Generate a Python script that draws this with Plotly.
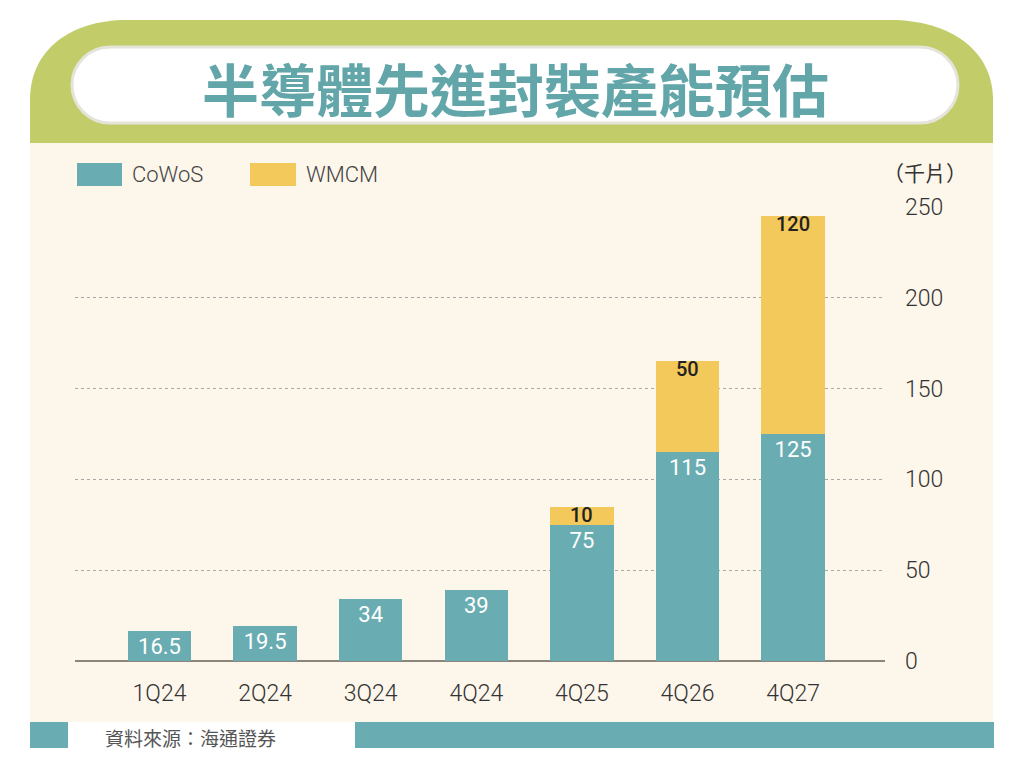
import plotly.graph_objects as go

quarters = ['1Q24', '2Q24', '3Q24', '4Q24', '4Q25', '4Q26', '4Q27']
cowos = [16.5, 19.5, 34, 39, 75, 115, 125]
wmcm = [None, None, None, None, 10, 50, 120]
y_ticks = [0, 50, 100, 150, 200, 250]

title = '半導體先進封裝產能預估'
unit = '（千片）'
source = '資料來源：海通證券'

TEAL = '#69adb2'
YELLOW = '#f3c95b'
GREEN = '#c2cc69'
BEIGE = '#fdf6ea'
TITLE_TEAL = '#62a6aa'

# plot area in pixels
L, R, T, B = 75, 139, 207, 106
W = 1024 - L - R
H = 767 - T - B


def px(X):
    return (X - L) / W


def py(Y):
    return (767 - B - Y) / H


fig = go.Figure()

fig.add_trace(go.Bar(x=quarters, y=cowos, name='CoWoS',
                     marker=dict(color=TEAL, line=dict(width=0)),
                     text=[f'{v:g}' for v in cowos],
                     textposition='inside', insidetextanchor='end',
                     constraintext='none', textangle=0,
                     textfont=dict(color='white', size=22, family='Roboto')))
fig.add_trace(go.Bar(x=quarters, y=wmcm, name='WMCM',
                     marker=dict(color=YELLOW, line=dict(width=0)),
                     textposition='none'))

shapes = []
# green header with rounded top corners
path = (f'M {px(30)},{py(150)} L {px(30)},{py(100)} '
        f'C {px(30)},{py(50)} {px(70)},{py(20)} {px(127)},{py(20)} '
        f'L {px(890)},{py(20)} '
        f'C {px(950)},{py(20)} {px(993)},{py(50)} {px(993)},{py(100)} '
        f'L {px(993)},{py(150)} Z')
shapes.append(dict(type='path', xref='paper', yref='paper', path=path,
                   fillcolor=GREEN, line=dict(width=0), layer='below'))
# beige body
shapes.append(dict(type='rect', xref='paper', yref='paper',
                   x0=px(30), x1=px(993), y0=py(722), y1=py(143),
                   fillcolor=BEIGE, line=dict(width=0), layer='below'))
# white title pill
r = 38
pill = (f'M {px(72 + r)},{py(47)} L {px(958 - r)},{py(47)} '
        f'C {px(958 - r + 21)},{py(47)} {px(958)},{py(64)} {px(958)},{py(85)} '
        f'C {px(958)},{py(106)} {px(958 - r + 21)},{py(123)} {px(958 - r)},{py(123)} '
        f'L {px(72 + r)},{py(123)} '
        f'C {px(72 + r - 21)},{py(123)} {px(72)},{py(106)} {px(72)},{py(85)} '
        f'C {px(72)},{py(64)} {px(72 + r - 21)},{py(47)} {px(72 + r)},{py(47)} Z')
shapes.append(dict(type='path', xref='paper', yref='paper', path=pill,
                   fillcolor='white', line=dict(color='#e4e4da', width=3),
                   layer='below'))
# bottom teal strip
shapes.append(dict(type='rect', xref='paper', yref='paper',
                   x0=px(30), x1=px(68), y0=py(748), y1=py(722),
                   fillcolor=TEAL, line=dict(width=0), layer='below'))
shapes.append(dict(type='rect', xref='paper', yref='paper',
                   x0=px(355), x1=px(994), y0=py(748), y1=py(722),
                   fillcolor=TEAL, line=dict(width=0), layer='below'))
# legend swatches
shapes.append(dict(type='rect', xref='paper', yref='paper',
                   x0=px(77), x1=px(122), y0=py(186), y1=py(163),
                   fillcolor=TEAL, line=dict(width=0)))
shapes.append(dict(type='rect', xref='paper', yref='paper',
                   x0=px(250), x1=px(296), y0=py(186), y1=py(163),
                   fillcolor=YELLOW, line=dict(width=0)))

annotations = [
    dict(text=title, x=px(515), y=py(87), xref='paper', yref='paper',
         showarrow=False, xanchor='center', yanchor='middle',
         font=dict(family='Noto Sans CJK TC', size=57, color=TITLE_TEAL,
                   weight='bold')),
    dict(text='CoWoS', x=px(130), y=py(175), xref='paper', yref='paper',
         showarrow=False, xanchor='left', yanchor='middle',
         font=dict(family='Roboto', size=22, color='#444444', weight=300)),
    dict(text='WMCM', x=px(304), y=py(175), xref='paper', yref='paper',
         showarrow=False, xanchor='left', yanchor='middle',
         font=dict(family='Roboto', size=22, color='#444444', weight=300)),
    dict(text=unit, x=px(925), y=py(172), xref='paper', yref='paper',
         showarrow=False, xanchor='center', yanchor='middle',
         font=dict(family='Noto Sans CJK TC', size=21, color='#333333')),
    dict(text=source, x=px(103), y=py(737), xref='paper', yref='paper',
         showarrow=False, xanchor='left', yanchor='middle',
         font=dict(family='Noto Sans CJK TC', size=19, color='#555555')),
]

# WMCM value labels just under the top of each stacked bar
for q, c, w in zip(quarters, cowos, wmcm):
    if w is None:
        continue
    annotations.append(dict(text=f'{w:g}', x=q, y=c + w, xref='x', yref='y',
                            showarrow=False, xanchor='center', yanchor='top',
                            yshift=5, borderpad=0,
                            font=dict(family='Roboto', size=20,
                                      color='#222222', weight=500)))

fig.update_layout(
    width=1024, height=767,
    margin=dict(l=L, r=R, t=T, b=B, pad=0),
    paper_bgcolor='white',
    plot_bgcolor='rgba(0,0,0,0)',
    barmode='stack',
    bargap=0.4,
    showlegend=False,
    shapes=shapes,
    annotations=annotations,
    xaxis=dict(range=[-0.8, 6.87], showgrid=False, showline=False,
               zeroline=False, ticks='', ticklabelstandoff=16,
               tickfont=dict(family='Roboto', size=23, color='#333333',
                             weight=300)),
    yaxis=dict(range=[0, 250], side='right', tickvals=y_ticks,
               showgrid=True, gridcolor='#a8a8a8', griddash='dot',
               gridwidth=1, zeroline=True, zerolinecolor='#8b857c',
               zerolinewidth=2, showline=False, ticks='',
               ticklabelstandoff=19,
               tickfont=dict(family='Roboto', size=23, color='#333333',
                             weight=300)),
)

# page body has a default 8px margin; remove it so the figure sits at 0,0
fig.write_html('out.html', config={'displayModeBar': False},
               post_script="document.body.style.margin='0px';")
